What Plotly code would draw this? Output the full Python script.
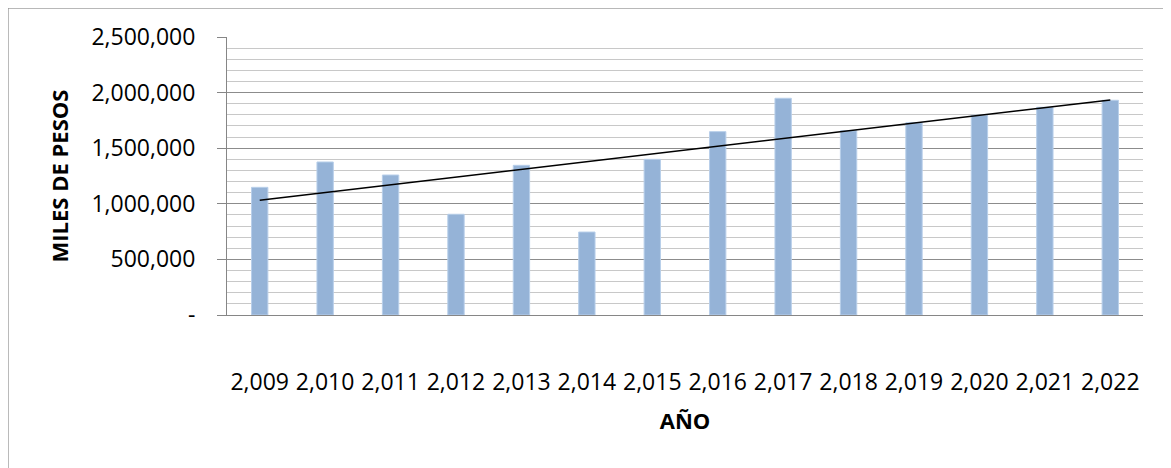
import numpy as np
import plotly.graph_objects as go

years = ["2,009", "2,010", "2,011", "2,012", "2,013", "2,014", "2,015",
         "2,016", "2,017", "2,018", "2,019", "2,020", "2,021", "2,022"]
values = [1148000, 1376000, 1259000, 906000, 1346000, 746000, 1400000,
          1649000, 1949000, 1657000, 1729000, 1796000, 1868000, 1931000]
y_tickvals = [0, 500000, 1000000, 1500000, 2000000, 2500000]
y_ticktext = ["-", "500,000", "1,000,000", "1,500,000", "2,000,000", "2,500,000"]

idx = np.arange(len(values))
slope, intercept = np.polyfit(idx, values, 1)
trend = slope * idx + intercept

fig = go.Figure()
fig.add_trace(go.Bar(
    x=years, y=values,
    marker=dict(color="#95B3D7", line=dict(color="#B8CFEA", width=1)),
    width=0.25, showlegend=False,
))
fig.add_trace(go.Scatter(
    x=years, y=trend, mode="lines",
    line=dict(color="black", width=1.5), showlegend=False,
))

fig.update_layout(
    width=1163, height=460,
    margin=dict(l=219, r=28, t=29, b=153),
    paper_bgcolor="white", plot_bgcolor="white",
    font=dict(family="Open Sans", size=23, color="black"),
    xaxis=dict(
        type="category",
        showline=True, linecolor="#868686", linewidth=1,
        showgrid=False, ticks="",
        ticklabelstandoff=46,
        title=dict(text="<b>AÑO</b>", font=dict(size=22), standoff=18),
    ),
    yaxis=dict(
        range=[0, 2500000],
        tickvals=y_tickvals, ticktext=y_ticktext,
        showline=True, linecolor="#868686", linewidth=1,
        ticks="outside", ticklen=9, tickcolor="#868686",
        showgrid=True, gridcolor="#8c8c8c", gridwidth=1,
        zeroline=False,
        ticklabelstandoff=17,
        minor=dict(dtick=100000, showgrid=True, gridcolor="#c8c8c8", gridwidth=1, ticks=""),
        title=dict(text="<b>MILES DE PESOS</b>", font=dict(size=22), standoff=16),
    ),
    shapes=[dict(type="rect", xref="paper", yref="paper",
                 x0=-0.239, x1=1.2, y0=-0.7, y1=1.104,
                 line=dict(color="#868686", width=1), fillcolor="rgba(0,0,0,0)",
                 layer="below")],
)

fig.write_html("out.html")
